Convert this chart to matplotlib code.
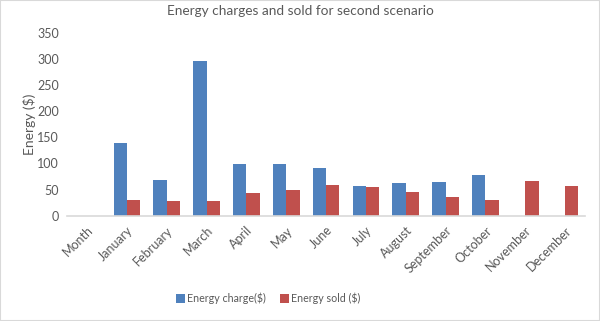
import numpy as np
import matplotlib.pyplot as plt
from matplotlib.patches import Rectangle

months = ['Month', 'January', 'February', 'March', 'April', 'May', 'June',
          'July', 'August', 'September', 'October', 'November', 'December']
energy_charge = [0, 139, 68, 295, 99, 98, 91, 56, 63, 65, 77, 0, 0]
energy_sold = [0, 30, 28, 29, 43, 50, 58, 54, 46, 36, 30, 66, 56]

text_color = '#595959'
plt.rcParams['font.family'] = ['Lato', 'DejaVu Sans']

fig = plt.figure(figsize=(6, 3.21), dpi=100)
ax = fig.add_axes([0.112, 0.328, 0.863, 0.57])

x = np.arange(len(months))
w = 0.335
ax.bar(x - w / 2, energy_charge, w, color='#4F81BD', label='Energy charge($)')
ax.bar(x + w / 2, energy_sold, w, color='#C0504D', label='Energy sold ($)')

ax.set_xlim(-0.5, len(months) - 0.5)
ax.set_ylim(0, 350)
ax.set_yticks(range(0, 351, 50))
ax.set_xticks(x)
ax.set_xticklabels(months, rotation=45, ha='right', rotation_mode='anchor')
ax.tick_params(axis='both', length=0, labelsize=9, colors=text_color)
ax.tick_params(axis='y', pad=6)
ax.tick_params(axis='x', pad=6)

for s in ['top', 'right', 'left']:
    ax.spines[s].set_visible(False)
ax.spines['bottom'].set_color('#D9D9D9')
ax.spines['bottom'].set_linewidth(1.2)

ax.set_ylabel('Energy ($)', fontsize=10, color=text_color, labelpad=1)
fig.suptitle('Energy charges and sold for second scenario', fontsize=9.8,
             color=text_color, y=0.985)

fig.legend(loc='center', bbox_to_anchor=(0.447, 0.07), ncol=2, frameon=False,
           fontsize=7.7, labelcolor=text_color, handlelength=0.85,
           handleheight=0.85, handletextpad=0.2, columnspacing=1.3)

fig.patches.append(Rectangle((0, 0), 1, 1, transform=fig.transFigure,
                             fill=False, edgecolor='#D9D9D9', linewidth=1.5))

fig.savefig('out.png', dpi=100)
